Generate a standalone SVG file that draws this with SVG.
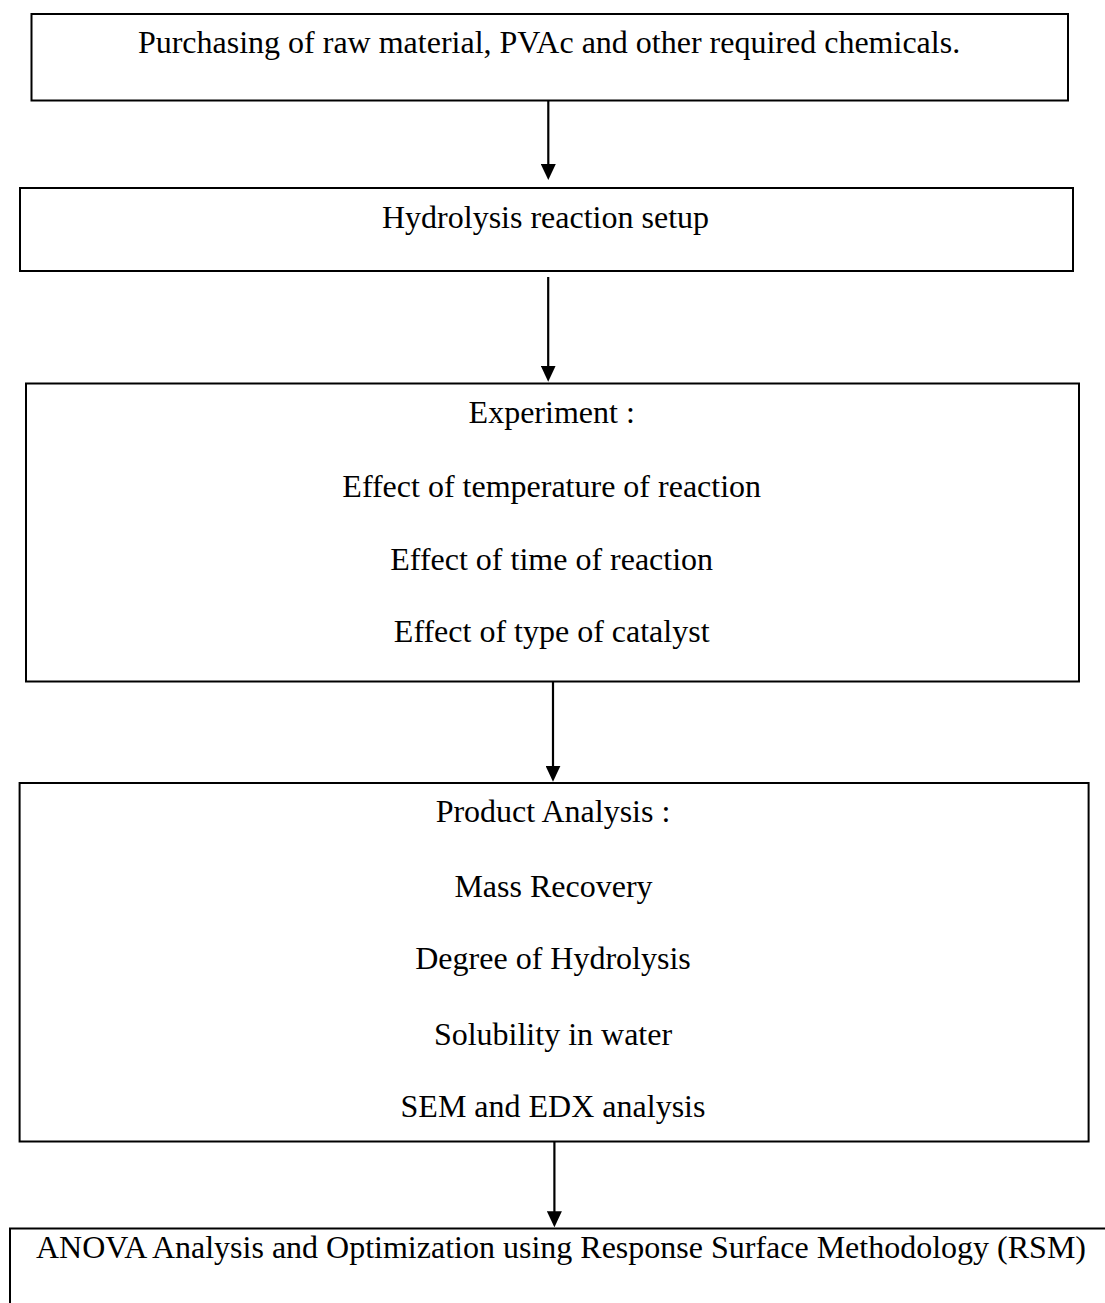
<svg xmlns="http://www.w3.org/2000/svg" width="1105" height="1303" viewBox="0 0 1105 1303">
<style>
.box{fill:#fff;stroke:#000;stroke-width:2}
.t{font-family:"Liberation Serif","Times New Roman",serif;font-size:32px;fill:#000;text-anchor:middle}
.c{stroke:#000;stroke-width:2.2;fill:none;marker-end:url(#ah)}
</style>
<defs>
<marker id="ah" markerUnits="userSpaceOnUse" markerWidth="16" markerHeight="15" refX="11" refY="7.5" orient="auto" viewBox="0 0 16 15">
<path d="M0,0 L16,7.5 L0,15 Z" fill="#000"/>
</marker>
</defs>
<rect width="1105" height="1303" fill="#fff"/>
<g id="n1">
<rect class="box" x="31.5" y="14" width="1036.5" height="86.5"/>
<text class="t" x="549" y="53.3">Purchasing of raw material, PVAc and other required chemicals.</text>
</g>
<g id="n2">
<rect class="box" x="20" y="188" width="1053" height="83"/>
<text class="t" x="545.5" y="228.3">Hydrolysis reaction setup</text>
</g>
<g id="n3">
<rect class="box" x="26" y="383.5" width="1053" height="298"/>
<text class="t" x="551.7" y="423.3">Experiment :</text>
<text class="t" x="551.7" y="496.7">Effect of temperature of reaction</text>
<text class="t" x="551.7" y="570">Effect of time of reaction</text>
<text class="t" x="551.7" y="641.7">Effect of type of catalyst</text>
</g>
<g id="n4">
<rect class="box" x="19.6" y="783" width="1069" height="358.5"/>
<text class="t" x="553" y="821.7">Product Analysis :</text>
<text class="t" x="553.5" y="896.7">Mass Recovery</text>
<text class="t" x="553" y="969.3">Degree of Hydrolysis</text>
<text class="t" x="553" y="1045">Solubility in water</text>
<text class="t" x="553" y="1116.7">SEM and EDX analysis</text>
</g>
<g id="n5">
<rect class="box" x="10" y="1228.5" width="1110" height="100"/>
<text class="t" x="561" y="1258.3">ANOVA Analysis and Optimization using Response Surface Methodology (RSM)</text>
</g>
<g id="connectors">
<line class="c" x1="548.3" y1="101" x2="548.3" y2="175"/>
<line class="c" x1="548.2" y1="277" x2="548.2" y2="376.7"/>
<line class="c" x1="553" y1="682" x2="553" y2="776.7"/>
<line class="c" x1="554.4" y1="1141.5" x2="554.4" y2="1222.3"/>
</g>
</svg>
